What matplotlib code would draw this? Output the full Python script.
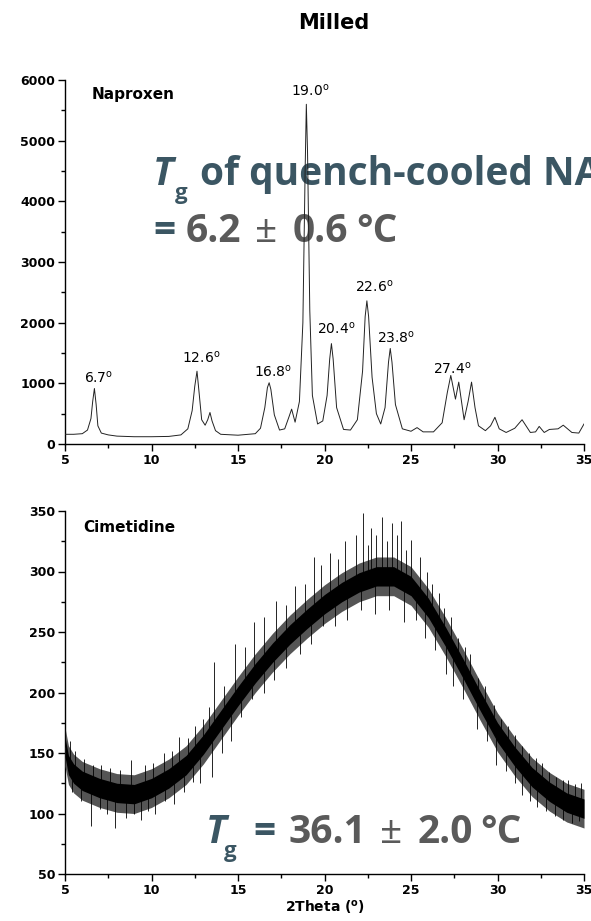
import numpy as np
import matplotlib
matplotlib.use("Agg")
import matplotlib.pyplot as plt
from matplotlib.ticker import MultipleLocator

plt.rcParams['font.family'] = ['DejaVu Sans']
plt.rcParams['mathtext.fontset'] = 'dejavusans'

# ---------------- data ----------------
# Naproxen (milled), 2Theta vs counts
nap_x = [5.0, 5.5, 6.0, 6.3, 6.5, 6.6, 6.7, 6.8, 6.9, 7.1,
         7.5, 8.0, 9.0, 10.0, 11.0, 11.7, 12.1, 12.35, 12.5, 12.63,
         12.75, 12.9, 13.1, 13.25, 13.38, 13.5, 13.7, 14.0, 15.0, 16.0,
         16.3, 16.55, 16.7, 16.8, 16.9, 17.1, 17.4, 17.7, 17.95, 18.1,
         18.3, 18.55, 18.75, 18.88, 18.95, 19.02, 19.15, 19.3, 19.6, 19.9,
         20.15, 20.3, 20.4, 20.5, 20.7, 21.1, 21.5, 21.9, 22.2, 22.35,
         22.45, 22.55, 22.75, 23.0, 23.25, 23.5, 23.7, 23.8, 23.9, 24.1,
         24.5, 25.0, 25.35, 25.7, 26.3, 26.8, 27.1, 27.3, 27.57, 27.76,
         28.07, 28.3, 28.5, 28.7, 28.9, 29.3, 29.6, 29.85, 30.1, 30.5,
         31.0, 31.42, 31.9, 32.2, 32.41, 32.7, 33.0, 33.5, 33.8, 34.3,
         34.7, 35.0]
nap_y = [160, 160, 170, 230, 420, 700, 915, 650, 300, 180,
         150, 130, 120, 120, 125, 150, 250, 550, 950, 1200,
         850, 400, 310, 400, 520, 380, 220, 160, 145, 170,
         260, 600, 930, 1010, 900, 480, 230, 250, 450, 575,
         360, 700, 2000, 4500, 5600, 4800, 2200, 800, 330, 380,
         800, 1400, 1655, 1400, 600, 240, 230, 400, 1200, 2100,
         2360, 2100, 1100, 500, 330, 600, 1350, 1575, 1350, 650,
         250, 210, 270, 200, 200, 350, 850, 1130, 740, 1020,
         400, 700, 1020, 600, 300, 220, 300, 440, 250, 190,
         260, 400, 190, 200, 290, 190, 240, 250, 310, 190,
         180, 330]

peak_labels = ['6.7', '12.6', '16.8', '19.0', '20.4', '22.6', '23.8', '27.4']
peak_lab_x = [6.9, 12.9, 17.0, 19.15, 20.7, 22.9, 24.15, 27.4]
peak_lab_y = [1090, 1430, 1200, 5830, 1900, 2590, 1750, 1250]

# Cimetidine (milled): centre of the noisy band
cim_x = [5.0, 5.2, 5.5, 6, 7, 8, 9, 10, 11, 12, 13, 14, 15, 16, 17, 18,
         19, 20, 21, 22, 23, 24, 25, 26, 27, 28, 29, 30, 31, 32, 33, 34, 35]
cim_mid = [155, 140, 133, 127, 121, 117, 116, 121, 129, 140, 157, 177, 197,
           216, 233, 248, 261, 273, 283, 291, 296, 296, 288, 270, 246,
           220, 193, 167, 147, 130, 118, 109, 104]
cim_core = 8      # dense black part of the band
cim_fringe = 16   # grey fuzz around it

# biggest spikes seen above / below the band
spike_up_x = [5.0, 5.3, 5.6, 6.1, 6.6, 7.1, 7.6, 8.2, 8.8, 9.6, 10.1, 10.7,
              11.2, 11.6, 12.1, 12.5, 13.0, 13.3, 13.6, 14.2, 14.8, 15.4,
              15.9, 16.5, 17.2, 17.8, 18.3, 18.9, 19.4, 19.8, 20.3, 20.8,
              21.2, 21.8, 22.2, 22.5, 22.7, 23.0, 23.3, 23.6, 23.9, 24.2,
              24.4, 24.7, 25.0, 25.5, 25.9, 26.2, 26.6, 26.9, 27.3, 27.7,
              28.1, 28.4, 28.9, 29.3, 29.8, 30.2, 30.6, 31.0, 31.4, 31.8,
              32.2, 32.6, 33.0, 33.4, 33.8, 34.1, 34.5, 34.8]
spike_up_y = [172, 160, 152, 145, 140, 140, 138, 136, 144, 140, 142, 150,
              152, 163, 162, 172, 178, 188, 225, 205, 240, 238,
              258, 262, 276, 272, 288, 290, 312, 305, 315, 310,
              325, 330, 348, 322, 336, 330, 345, 325, 340, 330,
              342, 318, 326, 312, 300, 290, 282, 270, 262, 245,
              238, 232, 212, 205, 190, 178, 172, 165, 156, 150,
              146, 142, 134, 130, 128, 128, 124, 125]
spike_dn_x = [5.4, 5.9, 6.5, 7.0, 7.4, 7.9, 8.5, 9.0, 9.4, 9.8, 10.2, 10.8,
              11.3, 11.9, 12.4, 12.8, 13.5, 14.1, 14.6, 15.2, 15.8, 16.5,
              17.1, 17.8, 18.6, 19.2, 19.9, 20.6, 21.3, 22.1, 22.9, 23.7,
              24.6, 25.3, 25.8, 26.4, 27.0, 27.4, 28.0, 28.8, 29.4, 29.9,
              30.5, 31.0, 31.4, 31.9, 32.3, 32.8, 33.3, 33.8, 34.3, 34.7,
              35.0]
spike_dn_y = [118, 110, 90, 104, 100, 88, 96, 100, 95, 102, 100, 110,
              108, 118, 126, 125, 130, 150, 160, 180, 195, 200,
              210, 220, 232, 240, 255, 255, 260, 268, 265, 268,
              258, 260, 245, 235, 215, 205, 195, 170, 160, 140,
              135, 125, 115, 110, 105, 102, 98, 95, 92, 94,
              95]

W, H = 591, 921
SLATE = '#3b5663'
GREY = '#5a5a5a'


def fx(px):
    return px / W


def fy(py):
    return 1 - py / H


def style_axes(ax):
    for s in ['top', 'right']:
        ax.spines[s].set_visible(False)
    for s in ['left', 'bottom']:
        ax.spines[s].set_linewidth(1.0)
    ax.tick_params(which='major', direction='out', length=5, width=1.0,
                   labelsize=9, pad=2)
    ax.tick_params(which='minor', direction='out', length=3, width=1.0)
    for lab in ax.get_xticklabels() + ax.get_yticklabels():
        lab.set_fontweight('bold')


fig = plt.figure(figsize=(W / 100, H / 100), dpi=100)

# ===================== top: naproxen =====================
ax1 = fig.add_axes([fx(65), fy(444), fx(584) - fx(65), fy(80) - fy(444)])
ax1.plot(nap_x, nap_y, color='#222222', lw=0.7, zorder=3)
ax1.set_xlim(5, 35)
ax1.set_ylim(0, 6000)
ax1.xaxis.set_major_locator(MultipleLocator(5))
ax1.xaxis.set_minor_locator(MultipleLocator(2.5))
ax1.yaxis.set_major_locator(MultipleLocator(1000))
ax1.yaxis.set_minor_locator(MultipleLocator(500))
style_axes(ax1)

for lab, x, y in zip(peak_labels, peak_lab_x, peak_lab_y):
    ax1.text(x, y, lab + r'$^{\mathrm{o}}$', ha='center', va='center',
             fontsize=10, zorder=4)
ax1.text(fx(92), fy(94), 'Naproxen', transform=fig.transFigure, ha='left',
         va='center', fontsize=11, fontweight='bold')

# ===================== bottom: cimetidine =====================
ax2 = fig.add_axes([fx(65), fy(874), fx(584) - fx(65), fy(511) - fy(874)])
mid = np.array(cim_mid, dtype=float)
ax2.fill_between(cim_x, mid - cim_fringe, mid + cim_fringe,
                 color='#555555', lw=0, zorder=3)
ax2.fill_between(cim_x, mid - cim_core, mid + cim_core,
                 color='black', lw=0, zorder=3)
ax2.vlines(spike_up_x, np.interp(spike_up_x, cim_x, mid), spike_up_y,
           color='black', lw=0.6, zorder=3)
ax2.vlines(spike_dn_x, spike_dn_y, np.interp(spike_dn_x, cim_x, mid),
           color='black', lw=0.6, zorder=3)
ax2.set_xlim(5, 35)
ax2.set_ylim(50, 350)
ax2.xaxis.set_major_locator(MultipleLocator(5))
ax2.xaxis.set_minor_locator(MultipleLocator(2.5))
ax2.yaxis.set_major_locator(MultipleLocator(50))
ax2.yaxis.set_minor_locator(MultipleLocator(25))
style_axes(ax2)
ax2.set_xlabel(r'2Theta ($^{\mathbf{o}}$)', fontsize=10, fontweight='bold',
               labelpad=1)
ax2.text(fx(83), fy(527), 'Cimetidine', transform=fig.transFigure, ha='left',
         va='center', fontsize=11, fontweight='bold')

fig.text(fx(334), fy(23), 'Milled', ha='center', va='center', fontsize=15,
         fontweight='bold')

# ===================== overlay Tg text =====================


def piece(ax, px, py, s, color, size=28, style='normal', weight='bold'):
    ax.text(fx(px), fy(py), s, transform=fig.transFigure, ha='left',
            va='baseline', color=color, family='Open Sans', fontsize=size,
            fontweight=weight, fontstyle=style, zorder=1, clip_on=False)


piece(ax1, 153, 185, 'T', SLATE, style='italic')
piece(ax1, 175, 199, 'g', SLATE, size=16)
piece(ax1, 200, 185, 'of quench-cooled NA', SLATE)
piece(ax1, 153, 242, '=', SLATE)
piece(ax1, 186, 242, '6.2', GREY)
piece(ax1, 255, 242, '\u00b1', GREY, weight='normal')
piece(ax1, 293, 242, '0.6', GREY)
piece(ax1, 356, 242, '\u00b0C', GREY)

piece(ax2, 206, 843, 'T', SLATE, style='italic')
piece(ax2, 224, 857, 'g', SLATE, size=16)
piece(ax2, 253, 843, '=', SLATE)
piece(ax2, 288, 843, '36.1', GREY)
piece(ax2, 380, 843, '\u00b1', GREY, weight='normal')
piece(ax2, 418, 843, '2.0', GREY)
piece(ax2, 480, 843, '\u00b0C', GREY)

fig.savefig('out.png', dpi=100)
